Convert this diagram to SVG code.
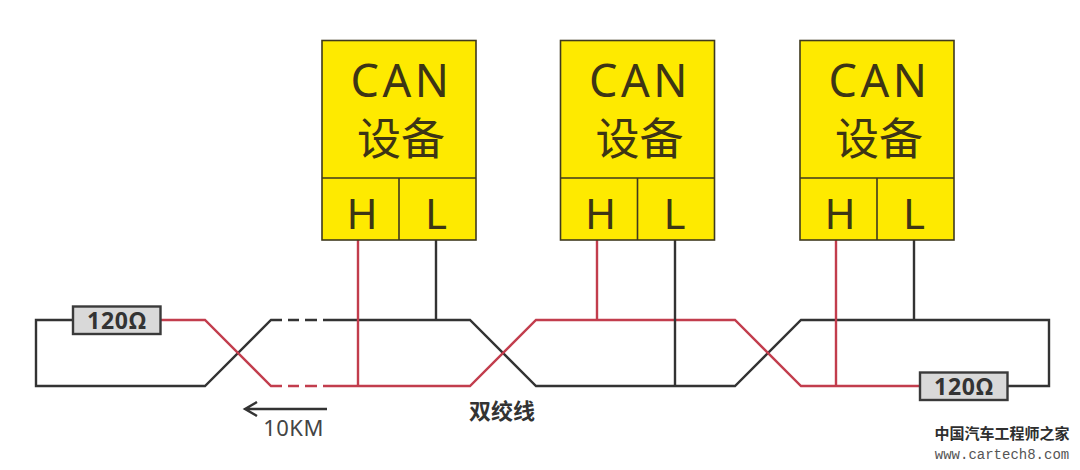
<svg xmlns="http://www.w3.org/2000/svg" width="1080" height="470" viewBox="0 0 1080 470">
<style>
.w{fill:none;stroke-width:2.4;stroke-linejoin:miter}
.k{stroke:#333333}
.r{stroke:#c23d4d}
.box{fill:#feea00;stroke:#3f3a1e;stroke-width:1.6}
.div{fill:none;stroke:#3f3a1e;stroke-width:1.6}
.big{font-family:"Noto Sans","Noto Sans CJK SC",sans-serif;fill:#3d3515;text-anchor:middle}
.res{fill:#d9d9d9;stroke:#3a3a3a;stroke-width:2.4}
.rt{font-family:"Noto Sans",sans-serif;font-weight:700;font-size:23px;fill:#333;text-anchor:middle;letter-spacing:.8px}
</style>
<defs>
<g id="dev">
<rect class="box" x="0" y="0" width="154" height="199.500"/>
<path class="div" d="M0 137.500H154M77 137.500V199.500"/>
<text class="big" x="79.500" y="56" font-size="45" letter-spacing="3.500">CAN</text>
<text class="big" x="79" y="114" font-size="44" style="font-family:'Noto Sans CJK SC',sans-serif">设备</text>
<text class="big" x="40" y="188" font-size="42">H</text>
<text class="big" x="114" y="188" font-size="42">L</text>
</g>
</defs>
<g id="connectors">
<path class="w k" d="M73 320H36V386H205L271 320H282M288 320H299M305 320H317M323 320H470L536 386H735L801 320H1049V386H1008"/>
<path class="w r" d="M161 320H205L271 386H282M288 386H299M305 386H317M323 386H470L536 320H735L801 386H919"/>
<path class="w r" d="M358 240V386M597 240V320M836 240V386"/>
<path class="w k" d="M436 240V320M675 240V386M914 240V320"/>
<path class="w k" stroke-width="2" d="M327 409H246M257 402L245 409L257 416"/>
</g>
<g id="can1"><use href="#dev" x="322" y="40.500"/></g>
<g id="can2"><use href="#dev" x="560.500" y="40.500"/></g>
<g id="can3"><use href="#dev" x="800" y="40.500"/></g>
<g id="res1"><rect class="res" x="73" y="306.500" width="87.500" height="27.500"/><text class="rt" x="117" y="328.500">120Ω</text></g>
<g id="res2"><rect class="res" x="920" y="372.500" width="87.500" height="27.500"/><text class="rt" x="964" y="394.500">120Ω</text></g>
<text id="twist" x="502" y="419" font-family="'Noto Sans CJK SC',sans-serif" font-weight="700" font-size="22" fill="#333" text-anchor="middle">双绞线</text>
<text id="dist" x="293.500" y="436" font-family="'Noto Sans',sans-serif" font-size="22" letter-spacing=".5" fill="#444" text-anchor="middle">10KM</text>
<text id="wm1" x="1002" y="439" font-family="'Noto Sans CJK SC',sans-serif" font-weight="700" font-size="15" fill="#2e2e2e" text-anchor="middle">中国汽车工程师之家</text>
<text id="wm2" x="1002" y="459" font-family="'Liberation Mono',monospace" font-size="14" fill="#555" text-anchor="middle">www.cartech8.com</text>
</svg>
